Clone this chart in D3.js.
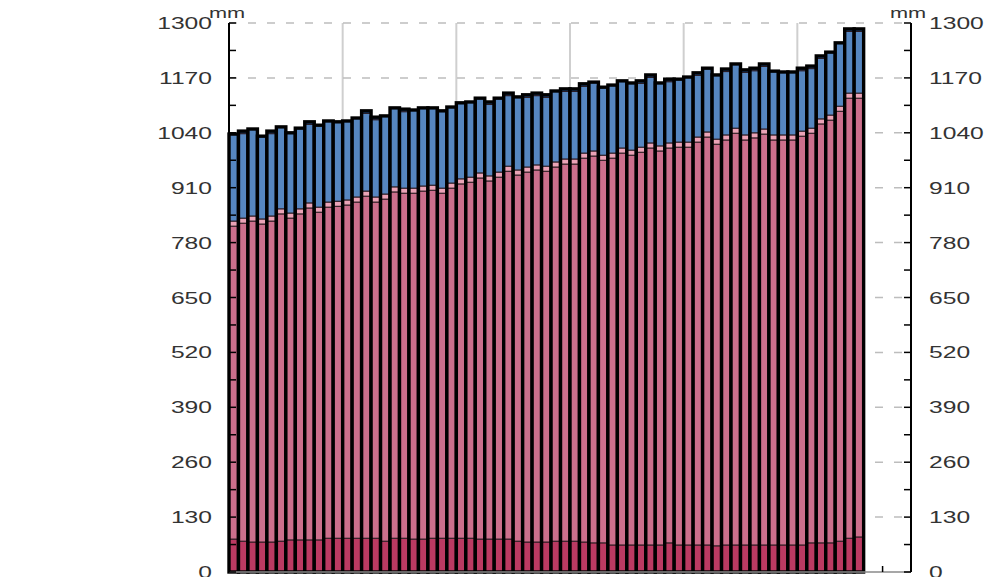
<!DOCTYPE html>
<meta charset="utf-8">
<style>
body { margin: 0; background: #fff; }
svg { display: block; }
.lbl { font-family: "Liberation Sans", Arial, sans-serif; fill: #333; }
</style>
<body></body>
<script src="https://cdnjs.cloudflare.com/ajax/libs/d3/7.8.5/d3.min.js"></script>
<script>

// stacked segment heights (mm) for each of the 67 bars, bottom to top
var base = [78,73,71,71,71,73,76,76,76,76,80,80,80,80,80,80,73,80,80,78,78,80,80,80,80,80,78,78,78,78,
            73,71,71,71,73,73,73,71,69,69,64,64,64,64,64,64,69,64,64,64,64,62,64,64,64,64,64,64,64,64,
            64,69,69,69,73,80,83];
var pink = [741,753,760,753,760,775,762,772,786,776,784,786,789,796,810,796,810,820,817,819,824,824,817,829,839,843,855,848,857,871,
            867,876,881,878,886,893,893,909,916,906,916,928,923,930,940,933,935,942,942,954,966,951,959,975,959,964,973,959,959,959,
            968,970,992,1001,1018,1042,1039];
var pinkBand = [12,12,12,12,12,12,12,12,12,12,12,12,12,12,12,12,12,12,12,12,12,12,12,12,12,12,12,12,12,12,
                12,12,12,12,12,12,12,12,12,12,12,12,12,12,12,12,12,12,12,12,12,12,12,12,12,12,12,12,12,12,
                12,12,12,12,12,12,12];
var blue = [206,200,206,196,195,194,190,191,186,194,192,188,187,187,184,183,185,187,181,185,185,183,183,180,180,178,177,169,175,167,
            173,165,164,163,168,160,160,158,163,161,161,159,159,151,155,149,145,149,154,146,151,152,150,152,148,147,148,151,149,149,
            143,141,143,149,150,146,146];
var blueBand = [0,6,0,0,6,0,0,0,6,0,0,0,0,0,6,6,0,0,6,0,0,0,0,0,0,0,0,6,0,6,
                0,6,6,6,0,6,6,6,0,0,0,0,0,6,6,0,6,0,0,6,0,0,6,0,6,6,6,0,0,0,
                6,6,6,0,0,6,6];

var layers = [
  { values: base,     color: "#bb3a62" },
  { values: pink,     color: "#cc6f8c" },
  { values: pinkBand, color: "#eaa3b6" },
  { values: blue,     color: "#5686c0" },
  { values: blueBand, color: "#1d4f8f" }
];

var yTicks = [0,130,260,390,520,650,780,910,1040,1170,1300];
var nSlots = 72;   // x range holds 72 slots, grid every 12

var W = 989, H = 577;
var svg = d3.select("body").append("svg").attr("width", W).attr("height", H);

var x = d3.scaleLinear().domain([0, nSlots]).range([229, 911]);
var y = d3.scaleLinear().domain([0, 1300]).range([572, 23]);

// rows of stacked segments
var bars = base.map(function(_, i) {
  var acc = 0;
  return layers.map(function(l) {
    var s = { i: i, y0: acc, y1: acc + l.values[i], color: l.color };
    acc = s.y1;
    return s;
  });
});

// vertical grid
svg.append("g").selectAll("line")
  .data(d3.range(12, nSlots, 12))
  .enter().append("line")
    .attr("x1", d => x(d)).attr("x2", d => x(d))
    .attr("y1", y(1300)).attr("y2", y(0))
    .attr("stroke", "#cfcfcf").attr("stroke-width", 2);

// horizontal dashed grid
svg.append("g").selectAll("line")
  .data(yTicks.filter(d => d > 0))
  .enter().append("line")
    .attr("x1", x(0)).attr("x2", x(nSlots))
    .attr("y1", d => y(d)).attr("y2", d => y(d))
    .attr("stroke", "#bdbdbd").attr("stroke-width", 1.5)
    .attr("stroke-dasharray", "8,11");

// bars
var barG = svg.append("g").selectAll("g")
  .data(bars)
  .enter().append("g");

barG.selectAll("rect")
  .data(d => d.filter(s => s.y1 > s.y0))
  .enter().append("rect")
    .attr("x", s => x(s.i)).attr("width", s => x(s.i + 1) - x(s.i))
    .attr("y", s => y(s.y1)).attr("height", s => y(s.y0) - y(s.y1))
    .attr("fill", s => s.color)
    .attr("stroke", "#2a1a20").attr("stroke-width", 1);

barG.append("rect")
    .attr("x", d => x(d[0].i)).attr("width", d => x(d[0].i + 1) - x(d[0].i))
    .attr("y", d => y(d[d.length - 1].y1)).attr("height", d => y(0) - y(d[d.length - 1].y1))
    .attr("fill", "none").attr("stroke", "#000").attr("stroke-width", 3.4);

// bottom line
svg.append("line")
  .attr("x1", x(0)).attr("x2", x(nSlots))
  .attr("y1", y(0)).attr("y2", y(0))
  .attr("stroke", "#8a8a8a").attr("stroke-width", 1.5);
svg.append("line")
  .attr("x1", x(69)).attr("x2", x(69))
  .attr("y1", y(0)).attr("y2", y(0) - 6)
  .attr("stroke", "#000").attr("stroke-width", 1.5);

// y axes (ticks point inward)
var minor = d3.range(0, 1301, 65);
[[x(0), 1], [x(nSlots), -1]].forEach(function(a) {
  svg.append("line")
    .attr("x1", a[0]).attr("x2", a[0])
    .attr("y1", y(1300)).attr("y2", y(0))
    .attr("stroke", "#000").attr("stroke-width", 2);
  svg.append("g").selectAll("line")
    .data(minor)
    .enter().append("line")
      .attr("x1", a[0]).attr("x2", a[0] + a[1] * 7)
      .attr("y1", d => y(d)).attr("y2", d => y(d))
      .attr("stroke", "#000").attr("stroke-width", 1.5);
});

var sx = 1.45;
svg.append("g").selectAll("text")
  .data(yTicks)
  .enter().append("text")
    .attr("class", "lbl")
    .attr("transform", d => "translate(212," + (y(d) + 6) + ") scale(" + sx + ",1)")
    .attr("text-anchor", "end")
    .style("font-size", "17px")
    .text(d => d);

svg.append("g").selectAll("text")
  .data(yTicks)
  .enter().append("text")
    .attr("class", "lbl")
    .attr("transform", d => "translate(929," + (y(d) + 6) + ") scale(" + sx + ",1)")
    .style("font-size", "17px")
    .text(d => d);

[209, 890].forEach(function(px) {
  svg.append("text")
    .attr("class", "lbl")
    .attr("transform", "translate(" + px + ",18) scale(" + sx + ",1)")
    .style("font-size", "15px")
    .text("mm");
});

</script>
